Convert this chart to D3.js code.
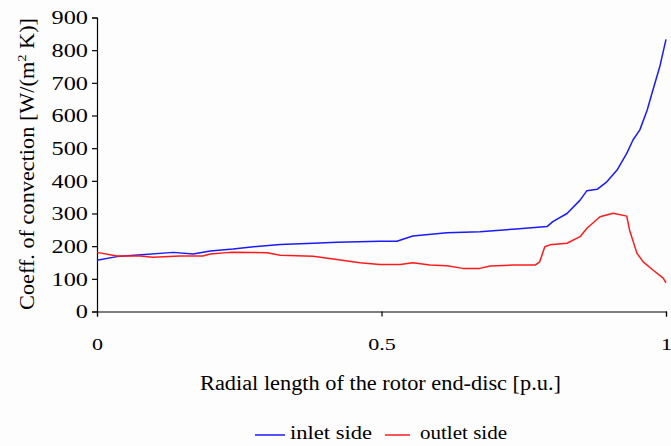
<!DOCTYPE html>
<html>
<head>
<meta charset="utf-8">
<script src="https://cdn.jsdelivr.net/npm/d3@7"></script>
</head>
<body style="margin:0;background:#ffffff">
<svg id="chart" width="671" height="446" style="display:block"></svg>
<script>
// Radial position along the rotor end-disc [p.u.]
const inletPos = [0, 0.035, 0.072, 0.134, 0.169, 0.199, 0.239, 0.286, 0.322, 0.380, 0.422, 0.497, 0.527,
  0.555, 0.615, 0.673, 0.731, 0.791, 0.801, 0.826, 0.849, 0.861, 0.879, 0.896, 0.914, 0.931, 0.942,
  0.954, 0.967, 0.977, 0.989, 1.0];
// Convection coefficient on the inlet side [W/(m2 K)]
const inletVal = [157, 168, 173, 181, 176, 185, 191, 200, 205, 209, 212, 215, 215,
  231, 241, 244, 252, 260, 275, 300, 341, 370, 374, 397, 433, 484, 525,
  556, 617, 678, 749, 833];

const outletPos = [0, 0.035, 0.076, 0.098, 0.146, 0.186, 0.199, 0.234, 0.299, 0.322, 0.380, 0.415, 0.462,
  0.497, 0.533, 0.555, 0.585, 0.615, 0.643, 0.673, 0.691, 0.731, 0.770, 0.778, 0.787, 0.796, 0.826,
  0.849, 0.861, 0.884, 0.907, 0.931, 0.936, 0.949, 0.960, 0.977, 0.995, 1.0];
// Convection coefficient on the outlet side [W/(m2 K)]
const outletVal = [181, 170, 170, 166, 170, 170, 176, 181, 180, 172, 169, 161, 149,
  144, 144, 149, 142, 140, 132, 132, 139, 142, 142, 152, 198, 204, 209,
  229, 255, 290, 301, 292, 249, 178, 152, 127, 102, 88];

const xTicks = [0, 0.5, 1];
const xTickLabels = ["0", "0.5", "1"];
const yTicks = [0, 100, 200, 300, 400, 500, 600, 700, 800, 900];

const seriesNames = ["inlet side", "outlet side"];
const seriesColors = ["#1a1aff", "#ff1a1a"];

const FONT = "Liberation Serif";

const svg = d3.select("#chart");
const W = 671, H = 446;
const plot = { left: 97, right: 666, top: 17.5, bottom: 311.5 };

const x = d3.scaleLinear().domain([0, 1]).range([plot.left, plot.right]);
const y = d3.scaleLinear().domain([0, 900]).range([plot.bottom, plot.top]);

svg.append("rect").attr("width", W).attr("height", H).attr("fill", "#fdfdfd");

// Y axis
const yAxis = svg.append("g")
  .attr("transform", `translate(${plot.left},0)`)
  .call(d3.axisLeft(y).tickValues(yTicks).tickSize(5).tickFormat(d3.format("d")));
yAxis.attr("font-family", FONT);
yAxis.select(".domain").attr("stroke", "#000").attr("stroke-width", 1.2);
yAxis.selectAll(".tick line").attr("stroke", "#000").attr("stroke-width", 1.2);
yAxis.selectAll(".tick text")
  .style("font-family", FONT)
  .attr("font-size", 18)
  .attr("fill", "#000")
  .attr("x", null)
  .attr("dy", "0.35em")
  .attr("text-anchor", "end")
  .attr("transform", "translate(-9,0) scale(1.35,1)");

// X axis
const xAxis = svg.append("g")
  .attr("transform", `translate(0,${plot.bottom})`)
  .call(d3.axisBottom(x).tickValues(xTicks).tickSize(5).tickFormat((d, i) => xTickLabels[i]));
xAxis.attr("font-family", FONT);
xAxis.select(".domain").attr("stroke", "#000").attr("stroke-width", 1.2);
xAxis.selectAll(".tick line").attr("stroke", "#000").attr("stroke-width", 1.2);
xAxis.selectAll(".tick text")
  .style("font-family", FONT)
  .attr("font-size", 17)
  .attr("fill", "#000")
  .attr("y", null)
  .attr("dy", null)
  .attr("text-anchor", "middle")
  .attr("transform", "translate(0,38) scale(1.3,1)");

// Series lines
const line = d3.line().x(d => x(d[0])).y(d => y(d[1]));
const series = [
  d3.zip(inletPos, inletVal),
  d3.zip(outletPos, outletVal)
];
series.forEach((pts, i) => {
  svg.append("path")
    .datum(pts)
    .attr("fill", "none")
    .attr("stroke", seriesColors[i])
    .attr("stroke-width", 1.5)
    .attr("stroke-linejoin", "round")
    .attr("d", line);
});

// Axis titles
svg.append("text")
  .attr("x", 380.5).attr("y", 390)
  .attr("text-anchor", "middle")
  .style("font-family", FONT)
  .attr("font-size", 20)
  .attr("textLength", 361).attr("lengthAdjust", "spacingAndGlyphs")
  .text("Radial length of the rotor end-disc [p.u.]");

const yTitle = svg.append("text")
  .attr("transform", "translate(34,164) rotate(-90)")
  .attr("text-anchor", "middle")
  .style("font-family", FONT)
  .attr("font-size", 20)
  .attr("textLength", 292).attr("lengthAdjust", "spacingAndGlyphs");
yTitle.append("tspan").text("Coeff. of convection [W/(m");
yTitle.append("tspan").attr("font-size", 13).attr("dy", -8).text("2");
yTitle.append("tspan").attr("dy", 8).text(" K)]");

// Legend
const legendItems = [
  { x1: 255, x2: 285, tx: 290, w: 82 },
  { x1: 385, x2: 410, tx: 420, w: 87 }
];
legendItems.forEach((it, i) => {
  svg.append("line")
    .attr("x1", it.x1).attr("x2", it.x2)
    .attr("y1", 435).attr("y2", 435)
    .attr("stroke", seriesColors[i]).attr("stroke-width", 1.5);
  svg.append("text")
    .attr("x", it.tx).attr("y", 439)
    .style("font-family", FONT)
    .attr("font-size", 18)
    .attr("textLength", it.w).attr("lengthAdjust", "spacingAndGlyphs")
    .text(seriesNames[i]);
});
</script>
</body>
</html>
